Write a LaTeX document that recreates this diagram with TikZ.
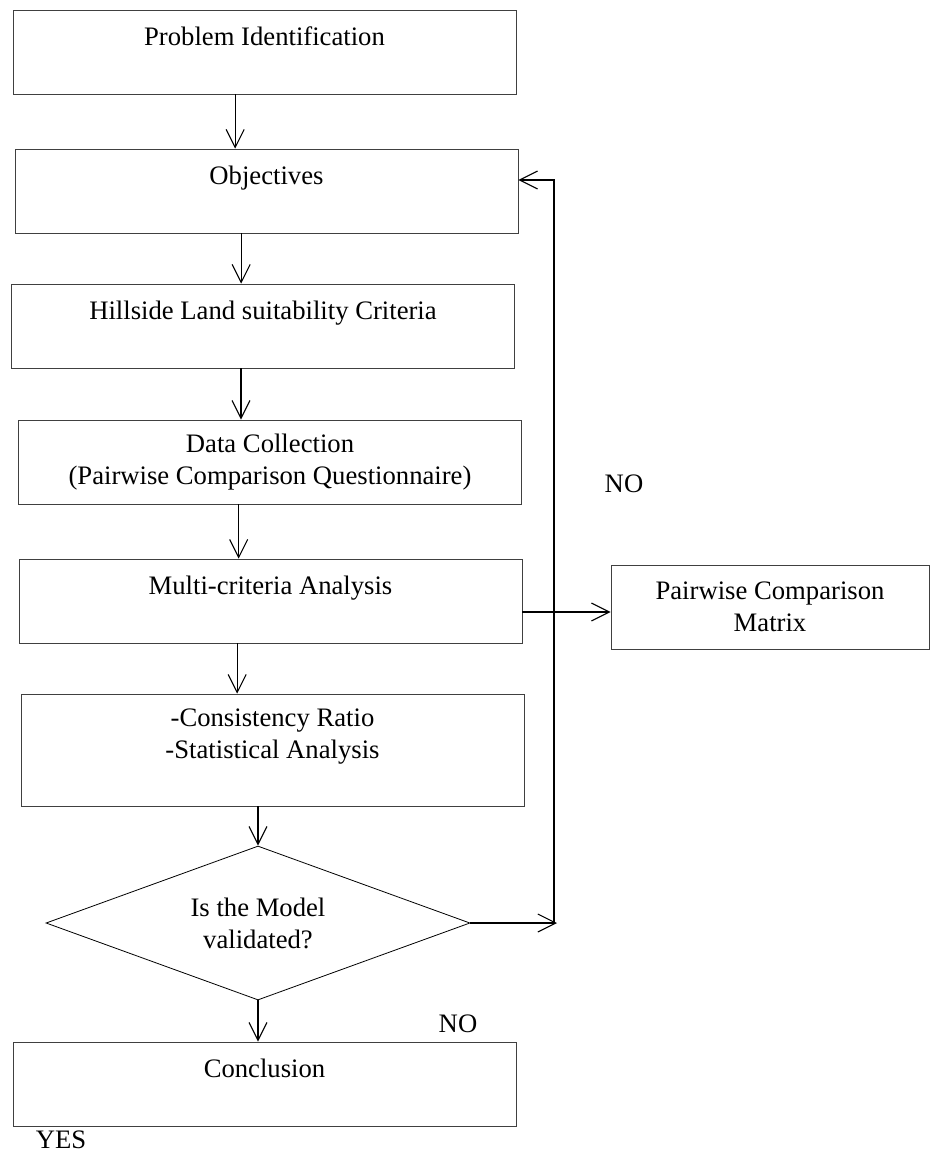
\documentclass[tikz,border=0pt]{standalone}
\usepackage{fontspec}
\setmainfont{Liberation Serif}
\usetikzlibrary{arrows.meta}
\usetikzlibrary{shapes.geometric}
\tikzstyle{every node}=[font=\fontsize{20}{24}\selectfont,inner sep=0pt]
\tikzstyle{process}=[draw=black!75,line width=0.6pt,align=center,minimum width=377.25pt,minimum height=63pt]
\tikzstyle{decision}=[draw=black,line width=0.6pt,diamond,aspect=2.75,align=center,minimum width=318pt,minimum height=115.5pt]
\tikzstyle{flow}=[line width=0.8pt,-{Straight Barb[length=13.5pt,width=13.5pt]}]

\begin{document}
\begin{tikzpicture}[x=0.75pt,y=-0.75pt]
\useasboundingbox (0,0) rectangle (930,1153);
% main column
\node[process] (prob) at (264.5,52) {Problem Identification\\ ~};
\node[process] (obj) at (266.5,191) {Objectives\\ ~};
\node[process] (hill) at (263,326) {Hillside Land suitability Criteria\\ ~};
\node[process] (data) at (270,462) {Data Collection\\(Pairwise Comparison Questionnaire)};
\node[process] (multi) at (270.5,601) {Multi-criteria Analysis\\ ~};
\node[process,minimum height=84pt] (cons) at (272.5,750) {-Consistency Ratio\\-Statistical Analysis\\ ~};
\node[decision] (dia) at (258,923) {Is the Model\\validated?};
\node[process] (concl) at (264.5,1084) {Conclusion\\ ~};
% side box
\node[process,minimum width=238.5pt] (pair) at (770,607) {Pairwise Comparison\\Matrix};
% labels
\node (no1) at (624,484) {NO};
\node (no2) at (458,1024) {NO};
\node (yes) at (61,1140) {YES};

\draw[flow] ([xshift=-22pt]prob.south) -- ([xshift=-22pt]prob.south |- obj.north);
\draw[flow] ([xshift=-19pt]obj.south) -- ([xshift=-19pt]obj.south |- hill.north);
\draw[flow] ([xshift=-16.5pt]hill.south) -- ([xshift=-16.5pt]hill.south |- data.north);
\draw[flow] ([xshift=-23.5pt]data.south) -- ([xshift=-23.5pt]data.south |- multi.north);
\draw[flow] ([xshift=-25pt]multi.south) -- ([xshift=-25pt]multi.south |- cons.north);
\draw[flow] (dia.north |- cons.south) -- (dia.north);
\draw[flow] (dia.south) -- (dia.south |- concl.north);
\draw[flow] ([yshift=-8.25pt]multi.east) -- ([yshift=-8.25pt]multi.east -| pair.west);
% loop back when not validated
\coordinate (turn) at (554,923);
\coordinate (back) at ([yshift=8.25pt]obj.east);
\draw[flow] (dia.east) -- ([xshift=2.25pt]turn);
\draw[flow] (turn) |- (back);
\end{tikzpicture}
\end{document}
